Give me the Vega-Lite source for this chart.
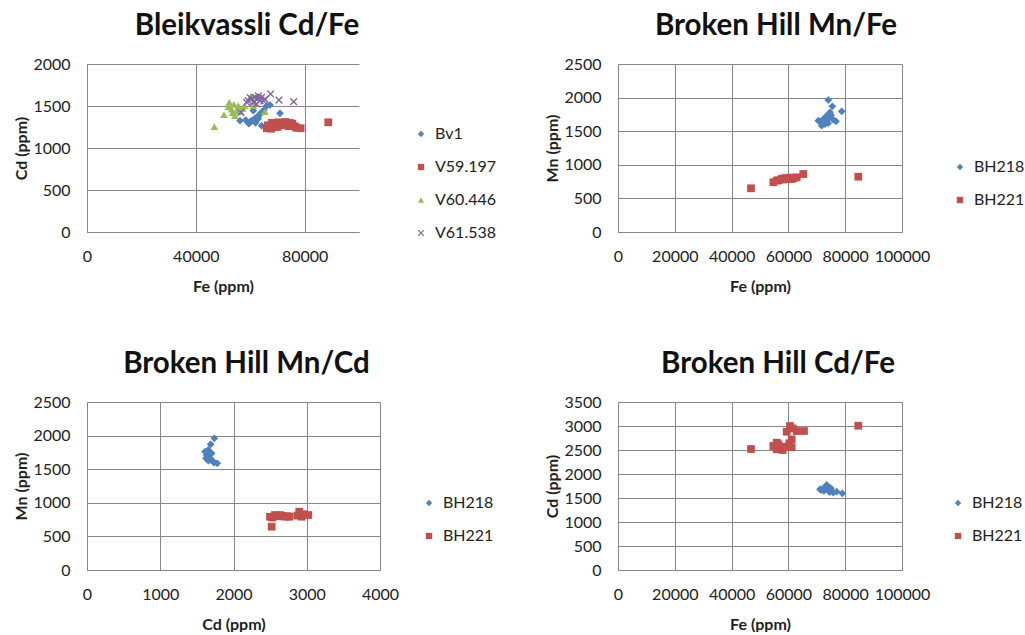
{
  "$schema": "https://vega.github.io/schema/vega-lite/v6.json",
  "padding": {"left": 13, "top": 10, "right": 0, "bottom": 0},
  "background": "white",
  "datasets": {
    "p1": [
      {"s":"Bv1","Fe":56240,"Cd":1325},{"s":"Bv1","Fe":58330,"Cd":1333},{"s":"Bv1","Fe":60540,"Cd":1325},{"s":"Bv1","Fe":61760,"Cd":1353},
      {"s":"Bv1","Fe":62980,"Cd":1385},{"s":"Bv1","Fe":64200,"Cd":1425},{"s":"Bv1","Fe":64200,"Cd":1266},{"s":"Bv1","Fe":67270,"Cd":1512},
      {"s":"Bv1","Fe":70950,"Cd":1413},{"s":"Bv1","Fe":61150,"Cd":1444},{"s":"Bv1","Fe":63500,"Cd":1400},{"s":"Bv1","Fe":62000,"Cd":1300},
      {"s":"Bv1","Fe":60000,"Cd":1310},{"s":"Bv1","Fe":65000,"Cd":1450},{"s":"Bv1","Fe":66000,"Cd":1500},{"s":"Bv1","Fe":63000,"Cd":1350},
      {"s":"Bv1","Fe":59500,"Cd":1290},
      {"s":"V59.197","Fe":66050,"Cd":1235},{"s":"V59.197","Fe":67270,"Cd":1258},{"s":"V59.197","Fe":68500,"Cd":1274},{"s":"V59.197","Fe":70330,"Cd":1306},
      {"s":"V59.197","Fe":72170,"Cd":1282},{"s":"V59.197","Fe":74630,"Cd":1298},{"s":"V59.197","Fe":76460,"Cd":1258},{"s":"V59.197","Fe":78550,"Cd":1235},
      {"s":"V59.197","Fe":88700,"Cd":1306},{"s":"V59.197","Fe":66500,"Cd":1270},{"s":"V59.197","Fe":67800,"Cd":1230},{"s":"V59.197","Fe":69500,"Cd":1290},
      {"s":"V59.197","Fe":71000,"Cd":1270},{"s":"V59.197","Fe":73000,"Cd":1310},{"s":"V59.197","Fe":74000,"Cd":1260},{"s":"V59.197","Fe":75500,"Cd":1290},
      {"s":"V59.197","Fe":77000,"Cd":1240},{"s":"V59.197","Fe":68000,"Cd":1300},{"s":"V59.197","Fe":70000,"Cd":1250},
      {"s":"V60.446","Fe":46800,"Cd":1254},{"s":"V60.446","Fe":50360,"Cd":1397},{"s":"V60.446","Fe":52320,"Cd":1544},{"s":"V60.446","Fe":53180,"Cd":1464},
      {"s":"V60.446","Fe":54400,"Cd":1385},{"s":"V60.446","Fe":55630,"Cd":1504},{"s":"V60.446","Fe":57230,"Cd":1472},{"s":"V60.446","Fe":55020,"Cd":1444},
      {"s":"V60.446","Fe":60170,"Cd":1615},{"s":"V60.446","Fe":65430,"Cd":1432},{"s":"V60.446","Fe":61150,"Cd":1504},{"s":"V60.446","Fe":52000,"Cd":1490},
      {"s":"V60.446","Fe":54000,"Cd":1520},{"s":"V60.446","Fe":56500,"Cd":1430},{"s":"V60.446","Fe":58000,"Cd":1500},{"s":"V60.446","Fe":53500,"Cd":1420},
      {"s":"V61.538","Fe":56610,"Cd":1425},{"s":"V61.538","Fe":67520,"Cd":1643},{"s":"V61.538","Fe":70580,"Cd":1571},{"s":"V61.538","Fe":75980,"Cd":1551},
      {"s":"V61.538","Fe":59300,"Cd":1563},{"s":"V61.538","Fe":60540,"Cd":1583},{"s":"V61.538","Fe":61760,"Cd":1603},{"s":"V61.538","Fe":62980,"Cd":1591},
      {"s":"V61.538","Fe":64200,"Cd":1603},{"s":"V61.538","Fe":65430,"Cd":1583},{"s":"V61.538","Fe":61150,"Cd":1544},{"s":"V61.538","Fe":63600,"Cd":1563},
      {"s":"V61.538","Fe":58700,"Cd":1544},{"s":"V61.538","Fe":62380,"Cd":1524},{"s":"V61.538","Fe":60000,"Cd":1600},{"s":"V61.538","Fe":63000,"Cd":1620},
      {"s":"V61.538","Fe":65000,"Cd":1560}
    ],
    "p2": [
      {"s":"BH218","Fe":74050,"Mn":1964},{"s":"BH218","Fe":75460,"Mn":1870},{"s":"BH218","Fe":78760,"Mn":1796},{"s":"BH218","Fe":74650,"Mn":1781},
      {"s":"BH218","Fe":73480,"Mn":1731},{"s":"BH218","Fe":72290,"Mn":1681},{"s":"BH218","Fe":71120,"Mn":1641},{"s":"BH218","Fe":71710,"Mn":1582},
      {"s":"BH218","Fe":72880,"Mn":1607},{"s":"BH218","Fe":75810,"Mn":1671},{"s":"BH218","Fe":76760,"Mn":1647},{"s":"BH218","Fe":74410,"Mn":1707},
      {"s":"BH218","Fe":70530,"Mn":1656},{"s":"BH218","Fe":73000,"Mn":1650},{"s":"BH218","Fe":74000,"Mn":1620},{"s":"BH218","Fe":75000,"Mn":1740},
      {"s":"BH221","Fe":46830,"Mn":650},{"s":"BH221","Fe":54690,"Mn":740},{"s":"BH221","Fe":55870,"Mn":764},{"s":"BH221","Fe":56500,"Mn":770},
      {"s":"BH221","Fe":57640,"Mn":789},{"s":"BH221","Fe":58500,"Mn":800},{"s":"BH221","Fe":59400,"Mn":799},{"s":"BH221","Fe":60200,"Mn":790},
      {"s":"BH221","Fe":61160,"Mn":789},{"s":"BH221","Fe":61800,"Mn":800},{"s":"BH221","Fe":62920,"Mn":814},{"s":"BH221","Fe":60500,"Mn":810},
      {"s":"BH221","Fe":65260,"Mn":863},{"s":"BH221","Fe":84610,"Mn":823},{"s":"BH221","Fe":58000,"Mn":780}
    ],
    "p3": [
      {"s":"BH218","Cd":1738,"Mn":1960},{"s":"BH218","Cd":1688,"Mn":1870},{"s":"BH218","Cd":1656,"Mn":1786},{"s":"BH218","Cd":1611,"Mn":1760},
      {"s":"BH218","Cd":1634,"Mn":1711},{"s":"BH218","Cd":1679,"Mn":1662},{"s":"BH218","Cd":1734,"Mn":1597},{"s":"BH218","Cd":1779,"Mn":1587},
      {"s":"BH218","Cd":1702,"Mn":1736},{"s":"BH218","Cd":1656,"Mn":1627},{"s":"BH218","Cd":1624,"Mn":1662},{"s":"BH218","Cd":1660,"Mn":1700},
      {"s":"BH218","Cd":1690,"Mn":1640},{"s":"BH218","Cd":1720,"Mn":1620},{"s":"BH218","Cd":1645,"Mn":1740},
      {"s":"BH221","Cd":2498,"Mn":793},{"s":"BH221","Cd":2530,"Mn":780},{"s":"BH221","Cd":2566,"Mn":818},{"s":"BH221","Cd":2600,"Mn":800},
      {"s":"BH221","Cd":2634,"Mn":818},{"s":"BH221","Cd":2670,"Mn":805},{"s":"BH221","Cd":2703,"Mn":793},{"s":"BH221","Cd":2740,"Mn":800},
      {"s":"BH221","Cd":2762,"Mn":793},{"s":"BH221","Cd":2521,"Mn":645},{"s":"BH221","Cd":2898,"Mn":868},{"s":"BH221","Cd":2930,"Mn":793},
      {"s":"BH221","Cd":3021,"Mn":818},{"s":"BH221","Cd":2870,"Mn":810},{"s":"BH221","Cd":2960,"Mn":830}
    ],
    "p4": [
      {"s":"BH218","Fe":71120,"Cd":1681},{"s":"BH218","Fe":72290,"Cd":1701},{"s":"BH218","Fe":73480,"Cd":1771},{"s":"BH218","Fe":74650,"Cd":1666},
      {"s":"BH218","Fe":75810,"Cd":1610},{"s":"BH218","Fe":76990,"Cd":1631},{"s":"BH218","Fe":78970,"Cd":1597},{"s":"BH218","Fe":74060,"Cd":1735},
      {"s":"BH218","Fe":71710,"Cd":1666},{"s":"BH218","Fe":73000,"Cd":1720},{"s":"BH218","Fe":75000,"Cd":1700},{"s":"BH218","Fe":72500,"Cd":1650},
      {"s":"BH218","Fe":74500,"Cd":1620},
      {"s":"BH221","Fe":46830,"Cd":2520},{"s":"BH221","Fe":54690,"Cd":2583},{"s":"BH221","Fe":55870,"Cd":2514},{"s":"BH221","Fe":55870,"Cd":2652},
      {"s":"BH221","Fe":57990,"Cd":2500},{"s":"BH221","Fe":58800,"Cd":2569},{"s":"BH221","Fe":60320,"Cd":2639},{"s":"BH221","Fe":61160,"Cd":2722},
      {"s":"BH221","Fe":59400,"Cd":2881},{"s":"BH221","Fe":60560,"Cd":3000},{"s":"BH221","Fe":61500,"Cd":2950},{"s":"BH221","Fe":62920,"Cd":2895},
      {"s":"BH221","Fe":65490,"Cd":2895},{"s":"BH221","Fe":84610,"Cd":3006},{"s":"BH221","Fe":61160,"Cd":2556},{"s":"BH221","Fe":57000,"Cd":2550},
      {"s":"BH221","Fe":56500,"Cd":2620}
    ]
  },
  "config": {
    "font": "Lato",
    "view": {"stroke": null},
    "axis": {
      "grid": true, "gridColor": "#868686", "gridOpacity": 1, "gridWidth": 1,
      "domainColor": "#868686", "domainWidth": 1, "ticks": false,
      "labelFont": "Lato", "labelFontSize": 16, "labelColor": "#222222", "labelFlush": false,
      "titleFont": "Lato", "titleFontSize": 16, "titleFontWeight": "bold", "titleColor": "#222222"
    },
    "axisX": {"labelPadding": 16, "titlePadding": 14},
    "axisY": {"labelPadding": 17, "titlePadding": 4, "minExtent": 54, "maxExtent": 54},
    "legend": {
      "labelFont": "Lato", "labelFontSize": 16, "labelColor": "#222222",
      "symbolSize": 40, "rowPadding": 17, "padding": 0, "labelOffset": 6, "symbolStrokeWidth": 0
    },
    "title": {"font": "Lato", "fontSize": 29.5, "fontWeight": "bold", "color": "#111111", "anchor": "middle", "frame": "group", "baseline": "alphabetic", "offset": 15}
  },
  "resolve": {"scale": {"color": "independent", "shape": "independent"}},
  "spacing": 54,
  "vconcat": [
    {
      "spacing": 47,
      "resolve": {"scale": {"color": "independent", "shape": "independent"}},
      "hconcat": [
        {
          "title": {"text": "Bleikvassli Cd/Fe", "dx": 24},
          "width": 272, "height": 168,
          "data": {"name": "p1"},
          "mark": {"type": "point", "filled": true, "opacity": 1, "size": 60},
          "encoding": {
            "x": {"field": "Fe", "type": "quantitative", "scale": {"domain": [0, 100000], "nice": false}, "axis": {"values": [0, 40000, 80000], "title": "Fe (ppm)", "format": "d"}},
            "y": {"field": "Cd", "type": "quantitative", "scale": {"domain": [0, 2000], "nice": false}, "axis": {"values": [0, 500, 1000, 1500, 2000], "title": "Cd (ppm)", "format": "d"}},
            "color": {"field": "s", "type": "nominal", "scale": {"domain": ["Bv1", "V59.197", "V60.446", "V61.538"], "range": ["#4F81BD", "#C0504D", "#9BBB59", "#8064A2"]}, "legend": {"orient": "none", "legendX": 326, "legendY": 62, "title": null}},
            "shape": {"field": "s", "type": "nominal", "scale": {"domain": ["Bv1", "V59.197", "V60.446", "V61.538"], "range": ["diamond", "square", "triangle-up", "M-1,-0.75L-0.75,-1L0,-0.25L0.75,-1L1,-0.75L0.25,0L1,0.75L0.75,1L0,0.25L-0.75,1L-1,0.75L-0.25,0Z"]}, "legend": {"orient": "none", "legendX": 326, "legendY": 62, "title": null}}
          }
        },
        {
          "title": {"text": "Broken Hill Mn/Fe", "dx": 16},
          "width": 284, "height": 168,
          "data": {"name": "p2"},
          "mark": {"type": "point", "filled": true, "opacity": 1, "size": 60},
          "encoding": {
            "x": {"field": "Fe", "type": "quantitative", "scale": {"domain": [0, 100000], "nice": false}, "axis": {"values": [0, 20000, 40000, 60000, 80000, 100000], "title": "Fe (ppm)", "format": "d"}},
            "y": {"field": "Mn", "type": "quantitative", "scale": {"domain": [0, 2500], "nice": false}, "axis": {"values": [0, 500, 1000, 1500, 2000, 2500], "title": "Mn (ppm)", "format": "d"}},
            "color": {"field": "s", "type": "nominal", "scale": {"domain": ["BH218", "BH221"], "range": ["#4F81BD", "#C0504D"]}, "legend": {"orient": "none", "legendX": 334, "legendY": 95, "title": null}},
            "shape": {"field": "s", "type": "nominal", "scale": {"domain": ["BH218", "BH221"], "range": ["diamond", "square"]}, "legend": {"orient": "none", "legendX": 334, "legendY": 95, "title": null}}
          }
        }
      ]
    },
    {
      "spacing": 50,
      "resolve": {"scale": {"color": "independent", "shape": "independent"}},
      "hconcat": [
        {
          "title": {"text": "Broken Hill Mn/Cd", "dx": 13},
          "width": 293, "height": 168,
          "data": {"name": "p3"},
          "mark": {"type": "point", "filled": true, "opacity": 1, "size": 60},
          "encoding": {
            "x": {"field": "Cd", "type": "quantitative", "scale": {"domain": [0, 4000], "nice": false}, "axis": {"values": [0, 1000, 2000, 3000, 4000], "title": "Cd (ppm)", "format": "d"}},
            "y": {"field": "Mn", "type": "quantitative", "scale": {"domain": [0, 2500], "nice": false}, "axis": {"values": [0, 500, 1000, 1500, 2000, 2500], "title": "Mn (ppm)", "format": "d"}},
            "color": {"field": "s", "type": "nominal", "scale": {"domain": ["BH218", "BH221"], "range": ["#4F81BD", "#C0504D"]}, "legend": {"orient": "none", "legendX": 334, "legendY": 93, "title": null}},
            "shape": {"field": "s", "type": "nominal", "scale": {"domain": ["BH218", "BH221"], "range": ["diamond", "square"]}, "legend": {"orient": "none", "legendX": 334, "legendY": 93, "title": null}}
          }
        },
        {
          "title": {"text": "Broken Hill Cd/Fe", "dx": 18},
          "width": 284, "height": 168,
          "data": {"name": "p4"},
          "mark": {"type": "point", "filled": true, "opacity": 1, "size": 60},
          "encoding": {
            "x": {"field": "Fe", "type": "quantitative", "scale": {"domain": [0, 100000], "nice": false}, "axis": {"values": [0, 20000, 40000, 60000, 80000, 100000], "title": "Fe (ppm)", "format": "d"}},
            "y": {"field": "Cd", "type": "quantitative", "scale": {"domain": [0, 3500], "nice": false}, "axis": {"values": [0, 500, 1000, 1500, 2000, 2500, 3000, 3500], "title": "Cd (ppm)", "format": "d"}},
            "color": {"field": "s", "type": "nominal", "scale": {"domain": ["BH218", "BH221"], "range": ["#4F81BD", "#C0504D"]}, "legend": {"orient": "none", "legendX": 332, "legendY": 93, "title": null}},
            "shape": {"field": "s", "type": "nominal", "scale": {"domain": ["BH218", "BH221"], "range": ["diamond", "square"]}, "legend": {"orient": "none", "legendX": 332, "legendY": 93, "title": null}}
          }
        }
      ]
    }
  ]
}
